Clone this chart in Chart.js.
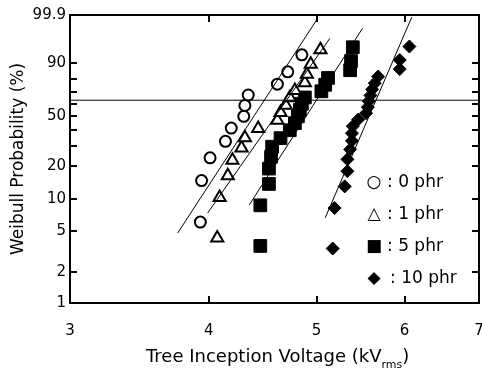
<!DOCTYPE html>
<html><head><meta charset="utf-8">
<script src="https://cdn.jsdelivr.net/npm/chart.js@4/dist/chart.umd.min.js"></script>
<style>html,body{margin:0;padding:0;background:#fff}#c{display:block}</style>
</head><body>
<canvas id="c" width="482" height="372"></canvas>
<script>
// ---- data ----
const xTicks = [3, 4, 5, 6, 7];
const xLabels = ['3', '4', '5', '6', '7'];
const yTicks = [1, 2, 5, 10, 20, 30, 40, 50, 60, 70, 80, 90, 99.9];
const yLabels = ['1', '2', '5', '10', '20', '', '', '50', '', '', '', '90', '99.9'];
const yTitle = 'Weibull Probability (%)';
const xTitleMain = 'Tree Inception Voltage (kV';
const xTitleSub = 'rms';
const xTitleEnd = ')';

const seriesNames = ['0 phr', '1 phr', '5 phr', '10 phr'];
const legendSymbols = ['○', '△', '■', '◆'];

const phr0V = [3.93, 3.94, 4.01, 4.14, 4.19, 4.30, 4.31, 4.34, 4.61, 4.71, 4.85];
const phr0F = [6.1, 14.9, 23.7, 32.5, 41.2, 50.0, 58.8, 67.5, 76.3, 85.1, 93.9];

const phr1V = [4.07, 4.09, 4.16, 4.20, 4.28, 4.31, 4.43, 4.61, 4.64, 4.69, 4.73, 4.78, 4.88, 4.90, 4.94, 5.04];
const phr1F = [4.3, 10.4, 16.5, 22.6, 28.7, 34.8, 40.9, 47.0, 53.0, 59.1, 65.2, 71.3, 77.4, 83.5, 89.6, 95.7];

const phr5V = [4.45, 4.45, 4.53, 4.53, 4.55, 4.56, 4.64, 4.73, 4.78, 4.81, 4.83, 4.85, 4.88, 5.05, 5.09, 5.12, 5.36, 5.37, 5.39];
const phr5F = [3.6, 8.8, 13.9, 19.1, 24.2, 29.4, 34.5, 39.7, 44.8, 50.0, 55.2, 60.3, 65.5, 70.6, 75.8, 80.9, 86.1, 91.2, 96.4];

const phr10V = [5.17, 5.19, 5.30, 5.33, 5.33, 5.36, 5.38, 5.38, 5.39, 5.45, 5.54, 5.56, 5.57, 5.59, 5.61, 5.64, 5.68, 5.94, 5.94, 6.06];
const phr10F = [3.4, 8.3, 13.2, 18.1, 23.0, 27.9, 32.8, 37.7, 42.6, 47.5, 52.5, 57.4, 62.3, 67.2, 72.1, 77.0, 81.9, 86.8, 91.7, 96.6];

// fitted Weibull lines (end points)
const fit0V = [3.75, 5.00],  fit0F = [4.8, 99.79];
const fit1V = [3.99, 5.14],  fit1F = [7.45, 98.3];
const fit5V = [4.35, 5.50],  fit5F = [8.9, 99.4];
const fit10V = [5.09, 6.09], fit10F = [6.7, 99.86];

// 63.2 % reference line
const refV = [3, 7], refF = [63.2, 63.2];

// ---- Weibull probability scale ----
class WeibullScale extends Chart.LinearScale {
  static id = 'weibull';
  static defaults = {};
  _t(v) { return Math.log(-Math.log(1 - v / 100)); }
  determineDataLimits() { this.min = this.options.min; this.max = this.options.max; }
  buildTicks() { return yTicks.map(v => ({ value: v })); }
  getPixelForValue(v) {
    const a = this._t(this.min), b = this._t(this.max);
    return this.getPixelForDecimal((this._t(v) - a) / (b - a));
  }
  getValueForPixel(p) {
    const a = this._t(this.min), b = this._t(this.max);
    const t = a + this.getDecimalForPixel(p) * (b - a);
    return 100 * (1 - Math.exp(-Math.exp(t)));
  }
}
Chart.register(WeibullScale);

const FONT = 'DejaVu Sans';
Chart.defaults.font.family = FONT;
Chart.defaults.color = '#000';

const pts = (xs, ys) => xs.map((v, i) => ({ x: v, y: ys[i] }));
const markerDs = (label, xs, ys, style, r, fill, bw) => ({
  label, data: pts(xs, ys), showLine: false, order: 2,
  pointStyle: style, pointRadius: r, pointBorderWidth: bw,
  pointBorderColor: '#000', pointBackgroundColor: fill,
  borderColor: '#000', backgroundColor: fill
});
const lineDs = (xs, ys) => ({
  data: pts(xs, ys), showLine: true, pointRadius: 0, borderWidth: 1,
  borderColor: '#000', order: 0, fill: false
});

const frame = {
  id: 'frame',
  afterDraw(chart) {
    const ctx = chart.ctx;
    const a = chart.chartArea;
    const xs = chart.scales.x, ys = chart.scales.y;
    ctx.save();
    ctx.fillStyle = '#000';
    const W = 2, L = 7;
    // frame
    ctx.fillRect(a.left - 1, a.top - 1, a.right - a.left + 2, W);
    ctx.fillRect(a.left - 1, a.bottom - 1, a.right - a.left + 2, W);
    ctx.fillRect(a.left - 1, a.top - 1, W, a.bottom - a.top + 2);
    ctx.fillRect(a.right - 1, a.top - 1, W, a.bottom - a.top + 2);
    // inward tick marks
    xTicks.forEach(v => {
      const px = Math.round(xs.getPixelForValue(v));
      if (px > a.left + 2 && px < a.right - 2) {
        ctx.fillRect(px - 1, a.bottom - L, W, L);
        ctx.fillRect(px - 1, a.top, W, L);
      }
    });
    yTicks.forEach(v => {
      const py = Math.round(ys.getPixelForValue(v));
      if (py > a.top + 2 && py < a.bottom - 2) {
        ctx.fillRect(a.left, py - 1, L, W);
        ctx.fillRect(a.right - L, py - 1, L, W);
      }
    });

    // legend
    ctx.textBaseline = 'middle';
    const ly = [183, 215, 247, 279];
    seriesNames.forEach((n, i) => {
      ctx.font = '17px ' + FONT;
      ctx.textAlign = 'center';
      ctx.fillText(legendSymbols[i], 374, ly[i]);
      ctx.textAlign = 'left';
      ctx.fillText(': ' + n, i === 3 ? 390 : 387, ly[i]);
    });

    // x title with subscript
    ctx.textBaseline = 'alphabetic';
    ctx.textAlign = 'left';
    ctx.font = '18px ' + FONT;
    let tx = 146;
    ctx.fillText(xTitleMain, tx, 362);
    tx += ctx.measureText(xTitleMain).width;
    ctx.font = '11px ' + FONT;
    ctx.fillText(xTitleSub, tx, 368);
    tx += ctx.measureText(xTitleSub).width;
    ctx.font = '18px ' + FONT;
    ctx.fillText(xTitleEnd, tx, 362);
    ctx.restore();
  }
};

new Chart(document.getElementById('c'), {
  type: 'scatter',
  data: {
    datasets: [
      markerDs(seriesNames[0], phr0V, phr0F, 'circle', 5.5, '#fff', 2),
      markerDs(seriesNames[1], phr1V, phr1F, 'triangle', 7, '#fff', 2),
      markerDs(seriesNames[2], phr5V, phr5F, 'rect', 9, '#000', 1),
      markerDs(seriesNames[3], phr10V, phr10F, 'rectRot', 6.5, '#000', 1),
      lineDs(fit0V, fit0F),
      lineDs(fit1V, fit1F),
      lineDs(fit5V, fit5F),
      lineDs(fit10V, fit10F),
      lineDs(refV, refF)
    ]
  },
  options: {
    responsive: false,
    animation: false,
    events: [],
    layout: { autoPadding: false, padding: { top: 15, right: 3, left: 0, bottom: 0 } },
    plugins: { legend: { display: false }, tooltip: { enabled: false } },
    scales: {
      x: {
        type: 'logarithmic', min: 3, max: 7,
        afterBuildTicks: s => { s.ticks = xTicks.map(v => ({ value: v })); },
        afterFit: s => { s.height = 69; s.paddingLeft = 0; s.paddingRight = 0; },
        grid: { display: false, drawTicks: false },
        border: { display: false },
        ticks: { autoSkip: false, maxRotation: 0, padding: 19, font: { size: 15 },
                 callback: (v, i) => xLabels[i] }
      },
      y: {
        type: 'weibull', min: 1, max: 99.9,
        afterFit: s => { s.width = 70; s.paddingTop = 0; s.paddingBottom = 0; },
        grid: { display: false, drawTicks: false },
        border: { display: false },
        ticks: { autoSkip: false, padding: 4, font: { size: 15 },
                 callback: (v, i) => yLabels[i] },
        title: { display: true, text: yTitle, font: { size: 17 }, padding: { top: 8, bottom: 0 } }
      }
    }
  },
  plugins: [frame]
});
</script>
</body></html>
